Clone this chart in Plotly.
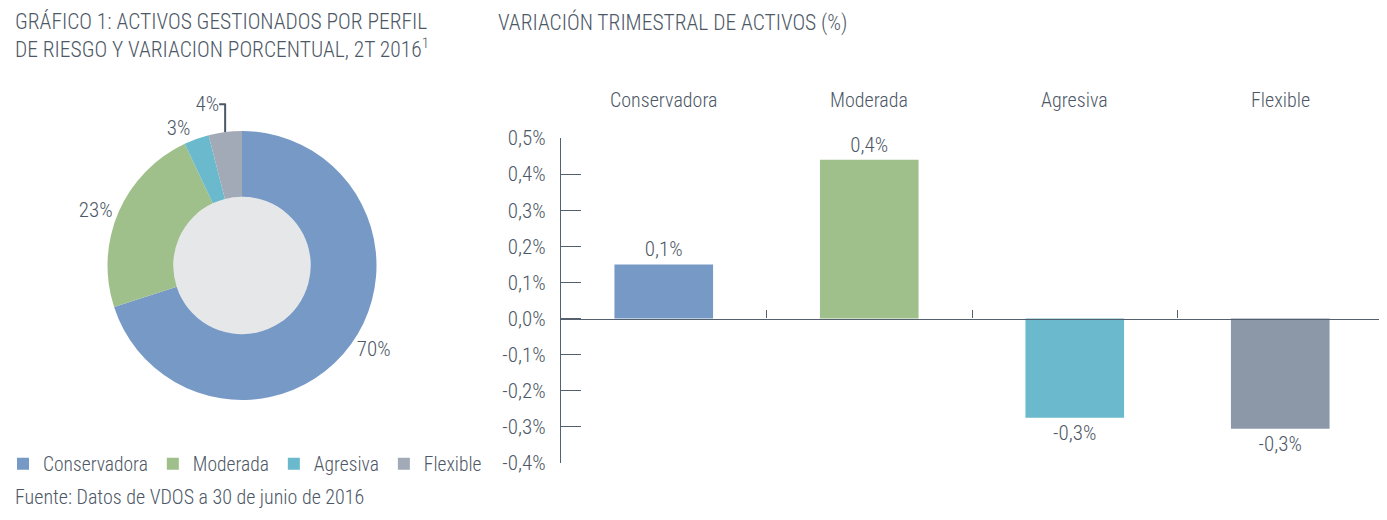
import plotly.graph_objects as go

categories = ["Conservadora", "Moderada", "Agresiva", "Flexible"]
pie_values = [70, 23, 3, 4]
bar_values = [0.15, 0.44, -0.275, -0.305]
bar_labels = ["0,1%", "0,4%", "-0,3%", "-0,3%"]
y_ticks = [0.5, 0.4, 0.3, 0.2, 0.1, 0.0, -0.1, -0.2, -0.3, -0.4]

pie_colors = ["#7799c6", "#a0c08b", "#6ab9cc", "#a3aab7"]
bar_colors = ["#7799c6", "#a0c08b", "#6ab9cc", "#8c98a8"]
TXT = "#4d5866"
FONT = "Roboto Condensed"
FW = 300

W, H = 1387, 520
OFF = 8  # page body margin in the browser
def fx(px): return (px - OFF) / W
def fy(py): return 1 - (py - OFF) / H

def fnt(size):
    return dict(family=FONT, size=size, color=TXT, weight=FW)

# pie geometry (px, screen coords)
cx, cy, r_out, r_in = 242, 265.5, 134.5, 68.7
y_lo, y_hi = -0.4, 0.5
plot_top, plot_bot = 138, 463
plot_l, plot_r = 561, 1383

fig = go.Figure()
fig.add_trace(go.Pie(
    labels=categories, values=pie_values, sort=False, direction="clockwise",
    rotation=0, hole=r_in / r_out,
    marker=dict(colors=pie_colors, line=dict(width=0)),
    texttemplate="%{value}%", textposition="outside",
    textfont=fnt(21), outsidetextfont=fnt(21),
    domain=dict(x=[fx(cx - r_out), fx(cx + r_out)], y=[fy(cy + r_out), fy(cy - r_out)]),
    hoverinfo="skip",
))
fig.add_trace(go.Bar(
    x=categories, y=bar_values, marker=dict(color=bar_colors, line=dict(width=0)),
    width=0.48, text=bar_labels, textposition="outside", cliponaxis=False,
    textfont=fnt(21), outsidetextfont=fnt(21), showlegend=False,
    xaxis="x", yaxis="y", hoverinfo="skip",
))
# invisible trace to activate xaxis2 (zero line with boundary ticks)
fig.add_trace(go.Bar(x=categories, y=[None] * len(categories), xaxis="x2", yaxis="y",
                     showlegend=False, hoverinfo="skip"))

zero_pos = fy(plot_bot) + (0 - y_lo) / (y_hi - y_lo) * (fy(plot_top) - fy(plot_bot))
AX = "#55606e"

fig.update_layout(
    width=W, height=H, margin=dict(l=0, r=0, t=0, b=0, autoexpand=False),
    paper_bgcolor="white", plot_bgcolor="white",
    separators=",.",
    font=fnt(20),
    xaxis=dict(domain=[fx(plot_l), fx(plot_r)], type="category", range=[-0.5, 3.5],
               showticklabels=False, showline=False, showgrid=False, zeroline=False, ticks=""),
    xaxis2=dict(domain=[fx(plot_l), fx(plot_r)], overlaying="x", type="category",
                range=[-0.5, 3.5], categoryorder="array", categoryarray=categories,
                anchor="free", position=zero_pos, side="bottom",
                showline=True, linecolor=AX, linewidth=1.3,
                ticks="inside", tickson="boundaries", ticklen=8, tickcolor=AX,
                tickwidth=1.3, showticklabels=False, showgrid=False, zeroline=False),
    yaxis=dict(domain=[fy(plot_bot), fy(plot_top)], range=[y_lo, y_hi],
               tickvals=y_ticks, ticktext=[f"{v:.1f}".replace(".", ",") + "%" for v in y_ticks],
               ticks="inside", ticklen=20, tickcolor=AX, tickwidth=1.3,
               showline=True, linecolor=AX, linewidth=1.3, ticklabelstandoff=10,
               showgrid=False, zeroline=False, tickfont=fnt(21)),
    legend=dict(orientation="h", x=fx(3), y=fy(464), yanchor="middle", xanchor="left",
                font=fnt(19.5), traceorder="normal"),
    shapes=[dict(type="circle", xref="paper", yref="paper", layer="below",
                 x0=fx(cx - r_in), x1=fx(cx + r_in), y0=fy(cy + r_in), y1=fy(cy - r_in),
                 fillcolor="#e6e7e9", line=dict(width=0))],
)

annotations = [
    dict(text="GRÁFICO 1: ACTIVOS GESTIONADOS POR PERFIL<br>DE RIESGO Y VARIACION PORCENTUAL, 2T 2016<sup>1</sup>",
         x=fx(13), y=fy(7), xanchor="left", yanchor="top", align="left",
         font=fnt(21.5)),
    dict(text="VARIACIÓN TRIMESTRAL DE ACTIVOS (%)", x=fx(496), y=fy(7),
         xanchor="left", yanchor="top", font=fnt(21.5)),
    dict(text="Fuente: Datos de VDOS a 30 de junio de 2016", x=fx(13), y=fy(497),
         xanchor="left", yanchor="middle", font=fnt(20)),
]
for c in categories:
    annotations.append(dict(text=c, x=c, xref="x", y=fy(100), yref="paper",
                            xanchor="center", yanchor="middle", font=fnt(20)))
for a in annotations:
    a.setdefault("xref", "paper")
    a.setdefault("yref", "paper")
    a["showarrow"] = False
fig.update_layout(annotations=annotations)

fig.write_html("out.html")
